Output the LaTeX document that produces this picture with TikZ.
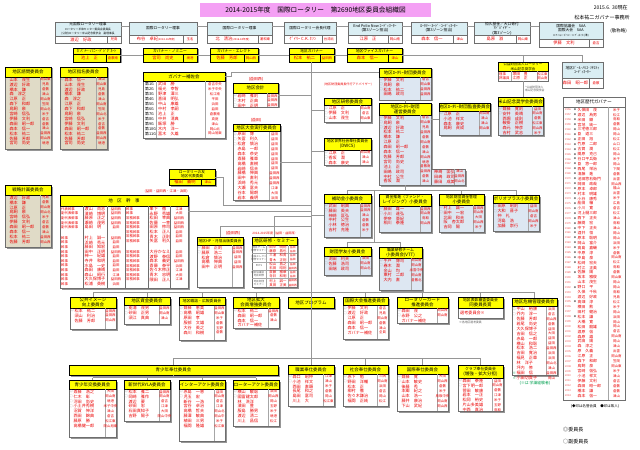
\documentclass[tikz,border=0pt]{standalone}
\usepackage{fontspec}
\setmainfont{Noto Sans CJK JP}
\usetikzlibrary{fit}

\definecolor{hdryellow}{RGB}{255,255,0}
\definecolor{bodyblue}{RGB}{221,231,242}
\definecolor{bodybeige}{RGB}{224,219,199}
\definecolor{toplblue}{RGB}{218,238,243}
\definecolor{titlepink}{RGB}{244,160,244}
\definecolor{namered}{RGB}{235,0,0}
\definecolor{linegray}{RGB}{150,150,150}
\definecolor{boxgray}{RGB}{110,110,110}
\definecolor{shadowgray}{RGB}{150,150,150}
\definecolor{notegreen}{RGB}{0,160,80}

\tikzset{
  hdr/.style={font=\fontsize{3.8}{4.3}\selectfont, align=center, inner sep=0pt},
  thdr/.style={font=\fontsize{3.2}{3.7}\selectfont, align=center, inner sep=0pt},
  mbr/.style={font=\fontsize{3.5}{4}\selectfont, text=namered, anchor=west, inner sep=0pt},
  pn/.style={font=\fontsize{3.6}{4}\selectfont, text=namered, inner sep=0pt},
  clb/.style={font=\fontsize{2.9}{3.4}\selectfont, text=namered, inner sep=0pt},
  mkr/.style={font=\fontsize{2.8}{3.2}\selectfont, text=gray, inner sep=0pt},
  role/.style={font=\fontsize{2.9}{3.4}\selectfont, text=namered, anchor=west, inner sep=0pt},
  grp/.style={font=\fontsize{3.3}{3.8}\selectfont, inner sep=0pt},
  cat/.style={font=\fontsize{2.2}{2.6}\selectfont, text=gray!70!black, align=center, inner sep=0pt},
  yr/.style={font=\fontsize{2.2}{2.6}\selectfont, text=namered!70, inner sep=0pt},
  conn/.style={draw=linegray, line width=0.8pt},
  sepline/.style={draw=gray!70, line width=0.3pt},
  colline/.style={draw=boxgray, line width=0.6pt},
  lbl/.style={font=\fontsize{3.3}{3.8}\selectfont, text=namered, inner sep=0pt},
  note/.style={font=\fontsize{4.3}{5}\selectfont, inner sep=0pt},
  tiny note/.style={font=\fontsize{2.4}{2.9}\selectfont, text=gray!70!black, align=center, inner sep=0pt},
}

\def\mka{◎}\def\mkb{○}\def\mkn{}\def\mkd{●}\def\mks{\textcolor{notegreen}{※}}\def\mkh{◆}

% committee box: [body fill]{name}{x1}{y1}{x2}{header bottom}{y2}{title}
\newcommand{\cbox}[8][white]{%
  \fill[shadowgray] (#3+1.5,#4+1.5) rectangle (#5+1.5,#7+1.5);
  \filldraw[fill=#1,draw=boxgray,line width=0.6pt] (#3,#4) rectangle (#5,#7);
  \filldraw[fill=hdryellow,draw=black,line width=0.5pt] (#3,#4) rectangle (#5,#6);
  \node[hdr] at ({(#3+#5)/2},{(#4+#6)/2}) {#8};
  \node[fit={(#3,#4) (#5,#7)},inner sep=0pt] (#2) {};
}
% member rows: {x1}{x2}{top}{bottom}{mark/name/club,...}
\newcommand{\mlist}[5]{%
  \draw[sepline] (#2-11,#3) -- (#2-11,#4);
  \foreach \mk/\nm/\cb [count=\i from 0] in {#5}{%
    \node[mkr] at (#1+2.3,#3+2.7+\i*4.9) {\csname mk\mk\endcsname};
    \node[mbr] at (#1+4.4,#3+2.7+\i*4.9) {\nm};
    \node[clb] at (#2-5.5,#3+2.7+\i*4.9) {\cb};
  }%
}
% officer box, light blue head: {name}{x1}{y1}{x2}{header bottom}{y2}{title}{person}{club}
\newcommand{\tbox}[9]{%
  \filldraw[fill=white,draw=boxgray,line width=0.6pt] (#2,#3) rectangle (#4,#6);
  \filldraw[fill=toplblue,draw=boxgray,line width=0.6pt] (#2,#3) rectangle (#4,#5);
  \draw[boxgray] (#4-14,#5) -- (#4-14,#6);
  \node[thdr] at ({(#2+#4)/2},{(#3+#5)/2}) {#7};
  \node[pn] at ({(#2+#4-14)/2},{(#5+#6)/2}) {#8};
  \node[clb] at (#4-7,{(#5+#6)/2}) {#9};
  \node[fit={(#2,#3) (#4,#6)},inner sep=0pt] (#1) {};
}
% officer box, yellow
\newcommand{\ybox}[9]{%
  \fill[shadowgray] (#2+1.5,#3+1.5) rectangle (#4+1.5,#6+1.5);
  \filldraw[fill=hdryellow,draw=black,line width=0.5pt] (#2,#3) rectangle (#4,#6);
  \draw[black,line width=0.4pt] (#2,#5) -- (#4,#5) (#4-14,#5) -- (#4-14,#6);
  \node[thdr] at ({(#2+#4)/2},{(#3+#5)/2}) {#7};
  \node[pn] at ({(#2+#4-14)/2},{(#5+#6)/2}) {#8};
  \node[clb] at (#4-7,{(#5+#6)/2}) {#9};
  \node[fit={(#2,#3) (#4,#6)},inner sep=0pt] (#1) {};
}

\begin{document}
\begin{tikzpicture}[x=0.03cm,y=-0.03cm]
\fill[white] (0,0) rectangle (640,450);
\useasboundingbox (0,0) rectangle (640,450);

% title and notes
\fill[titlepink] (200,3) rectangle (431,17);
\node[font=\fontsize{5.7}{6.5}\selectfont, inner sep=0pt] (title) at (315.5,10) {2014-2015年度\quad 国際ロータリー\quad 第2690地区委員会組織図};
\node[note, anchor=east] (asof) at (628,8) {2015.6. 30現在};
\node[note, anchor=east] (office) at (630,18) {松本祐二ガバナー事務所};
\node[note, anchor=east, font=\fontsize{3.8}{4.4}\selectfont] (keisho) at (627,31) {(敬称略)};

% RI officers
\tbox{T1}{55}{22}{121}{36}{43}{元国際ロータリー理事\\{\fontsize{2.3}{2.8}\selectfont ロータリー平和センター委員会委員長}\\{\fontsize{2.3}{2.8}\selectfont (公財)ロータリー米山記念奨学会　副理事長}}{渡辺　好政}{児島}
\tbox{T2}{129}{22}{197}{35}{43}{国際ロータリー理事}{布谷　卓紀{\fontsize{2.3}{3}\selectfont (2014-16年度)}}{玉名}
\tbox{T3}{207}{22}{272}{35}{43}{国際ロータリー理事}{北　清治{\fontsize{2.3}{3}\selectfont (2016-18年度)}}{浦和東}
\tbox{T4}{284}{22}{336}{35}{43}{国際ロータリー会長代理}{ｹﾞｲﾘｰ C.K. ﾎｧﾝ}{台湾北}
\tbox{T5}{348}{22}{402}{35}{43}{End Polio Now ｺｰﾃﾞｨﾈｰﾀｰ\\(第3ゾーン担当)}{江原　正}{岡山南}
\tbox{T6}{411}{22}{467}{35}{43}{ﾛｰﾀﾘｰ･ｶｰﾄﾞ･ｺｰﾃﾞｨﾈｰﾀｰ\\(第3ゾーン担当)}{森本　信一}{津山}
\tbox{T7}{474}{22}{530}{35}{43}{恒久基金／大口寄付\\ｱﾄﾞﾊﾞｲｻﾞｰ\\(第3ゾーン)}{島原　淑}{岡山東}
\tbox{T8}{539}{22}{603}{39}{47}{国際協議会　SAA\\国際大会　SAA\\{\fontsize{2.3}{3}\selectfont ﾛｰﾃｰｼｮﾝ･ﾎﾟﾘｼｰ･ｺｰﾃﾞｨﾈｰﾀｰ(準)}}{伊藤　文利}{倉吉}

% governors
\ybox{R1}{73}{48}{120}{54.5}{62}{ｶﾞﾊﾞﾅｰ･ﾉﾐﾆｰ･ﾃﾞｼﾞｸﾞﾈｰﾄ}{池上　正}{倉敷南}
\ybox{R2}{143}{48}{197}{54.5}{62}{ガバナー・ノミニー}{宮司　尚史}{境港}
\ybox{R3}{210}{48}{258}{54.5}{62}{ガバナー・エレクト}{佐藤　芳郎}{岡山西}
\ybox{R4}{289}{48}{334}{54.5}{62}{地区ガバナー}{松本　祐二}{益田西}
\ybox{R5}{347}{48}{402}{54.5}{62}{地区ヴァイスガバナー}{森本　信一}{津山}
\ybox{RT}{169}{169}{215}{179}{185}{ロータリーの友\\地区代表委員}{福田　義明}{津山}
\tbox{PH}{562}{62}{603}{78}{88}{地区ﾎﾟｰﾙ･ﾊﾘｽ･ｿｻｴﾃｨ\\ｺｰﾃﾞｨﾈｰﾀｰ}{森田　昭一郎}{倉敷}

% left column
\cbox[bodybeige]{SK}{5}{67}{51}{77}{149}{地区諮問委員会}
\mlist{5}{51}{77}{149}{n/山本　茂生/岡山東, n/渡辺　好政/児島, n/橋本　謙/倉敷, n/森　淳之/津山, n/江原　正/岡山南, n/森下　和郎/笠岡, n/鳥飼　泉/岡山北, n/宮崎　信弘/米子, n/伊藤　文利/倉吉, n/森田　昭一郎/倉敷, n/森本　信一/津山, n/松本　祐二/益田西, n/佐藤　芳郎/岡山西, n/宮司　尚史/境港}
\cbox[bodybeige]{SI}{60}{67}{107}{77}{149}{地区指名委員会}
\mlist{60}{107}{77}{149}{a/森本　信一/津山, n/山本　茂生/岡山東, n/渡辺　好政/児島, n/橋本　謙/倉敷, n/森　淳之/津山, n/江原　正/岡山南, n/森下　和郎/笠岡, n/鳥飼　泉/岡山北, n/宮崎　信弘/米子, n/伊藤　文利/倉吉, n/森田　昭一郎/倉敷, n/松本　祐二/益田西, n/佐藤　芳郎/岡山西, n/宮司　尚史/境港}
\cbox[bodybeige]{SR}{5}{185}{51}{195}{247}{戦略計画委員会}
\mlist{5}{51}{195}{247}{n/渡辺　好政/児島, n/橋本　謙/倉敷, n/江原　正/岡山南, n/鳥飼　泉/岡山北, n/宮崎　信弘/米子, n/伊藤　文利/倉吉, n/森田　昭一郎/倉敷, n/森本　信一/津山, n/松本　祐二/益田西, n/佐藤　芳郎/岡山西}

% assistant governors
\cbox{GA}{143}{72}{225}{81}{138}{ガバナー補佐会}
\draw[sepline] (156,81) -- (156,138) (205,81) -- (205,138);
\foreach \g/\nm/\cb [count=\i from 0] in {1/武田　勝/倉吉中央, 2/福光　幸智/米子中央, 3/野津　澤三/松江南, 4/喜田　明弘/平田, 5/中山　康雄/浜田, 6/中村　孝嗣/益田, 7/池上　正/倉敷南, 8/中井　清典/真庭, 9/飯塚　勝/津山, 10/木内　洋一/岡山北, 11/冨木　久雄/岡山旭東}{
  \node[grp, anchor=west] at (145,84.2+\i*4.95) {第\g G};
  \node[mbr] at (158,84.2+\i*4.95) {\nm};
  \node[clb] at (215,84.2+\i*4.95) {\cb};
}

% district accounting and conference
\node[lbl] (lkaikei) at (256,79.5) {(益田西)};
\cbox{KA}{233}{83}{278}{93}{107}{地区会計}
\mlist{233}{278}{93}{107}{a/岩崎　雅則/益田西, b/木村　正典/益田西, b/田中　正明/益田西}
\node[lbl] (ltaikai) at (256,120.5) {(益田)};
\cbox{TK}{233}{124}{280}{131.5}{200}{地区大会実行委員会}
\mlist{233}{280}{131.5}{200}{a/原田　博/益田, b/矢冨　利久/益田, b/松倉　慎治/益田, n/赤島　一郎/益田, n/森本　恭史/益田, n/斎藤　雅章/益田, n/高橋　直樹/益田, n/岩崎　信夫/益田, n/藤橋　伸典/益田西, n/田中　直利/益田西, n/浜崎　秀元/益田西, n/大瀬　富夫/江津, n/谷本　陽朗/大田, n/岩本　義明/浜田}

% district secretaries
\node[lbl, anchor=east, font=\fontsize{2.9}{3.4}\selectfont] (lkanji) at (188,191) {(益田・益田西・江津・浜田)};
\cbox{KJ}{60}{195}{188}{206}{288}{地\quad 区\quad 幹\quad 事}
\foreach \xx in {83,107,125,148,170} \draw[colline] (\xx,206) -- (\xx,288);
\foreach \rl/\nm/\cb [count=\i from 0] in {代表幹事/渡山　尚志/益田西, 副代表幹事/濱崎　博明/益田西, 副代表幹事/藤原　正之/益田西, 副代表幹事/瀬崎　茂男/益田西, 副代表幹事/島田　明/益田}{
  \node[role] at (61,209+\i*4.6) {\rl};
  \node[mbr] at (84.5,209+\i*4.6) {\nm};
  \node[clb] at (116,209+\i*4.6) {\cb};
}
\foreach \rl/\nm/\cb [count=\i from 0] in {幹事/村上　誠一/益田西, 幹事/浜崎　秀元/益田, 幹事/藤田　知宏/益田, 幹事/田中　正明/益田西, 幹事/神一　紀雄/益田, 幹事/寺井　和明/益田, 幹事/水島　一史/益田, 幹事/森田　康晴/益田, 幹事/森山　昭行/江津, 幹事/大久保博子/益田西, 幹事/松浦　英樹/浜田}{
  \node[role] at (61,238+\i*4.6) {\rl};
  \node[mbr] at (84.5,238+\i*4.6) {\nm};
  \node[clb] at (116,238+\i*4.6) {\cb};
}
\foreach \rl/\nm/\cb [count=\i from 0] in {幹事/峯下　徹/江津, 幹事/永野　秀雄/大田, 常務幹事/松田　幸典/益田西, 常務幹事/佐藤　一幸/益田西, 常務幹事/田原　修司/益田西, 常務幹事/松本　正人/益田, 常務幹事/青木　正則/益田, 常務幹事/矢冨　利久/益田}{
  \node[role] at (126,209+\i*4.6) {\rl};
  \node[mbr] at (149.5,209+\i*4.6) {\nm};
  \node[clb] at (179,209+\i*4.6) {\cb};
}
\foreach \rl/\nm/\cb [count=\i from 0] in {常務幹事/大谷かなえ/益田, 常務幹事/渡野　泰信/益田, 常務幹事/森本　義史/益田西, 常務幹事/斎藤　泰平/浜田, 常務幹事/佐々木修正/江津, 常務幹事/青木　忠明/大田, 常務幹事/隈田　正人/江津}{
  \node[role] at (126,252+\i*4.6) {\rl};
  \node[mbr] at (149.5,252+\i*4.6) {\nm};
  \node[clb] at (179,252+\i*4.6) {\cb};
}

% web site and seminars
\node[lbl] (lhp) at (233,233.5) {(益田西)};
\cbox{HP}{197}{237}{243}{245}{287}{\fontsize{3.2}{3.7}\selectfont 地区HP・月信出版委員会}
\mlist{197}{243}{245}{287}{a/藤田　正則/益田西, b/藤原　浩二/益田西, n/松倉　慎治/益田, n/高橋　伸典/益田, n/田中　正明/益田西}
\node[lbl, font=\fontsize{2.6}{3}\selectfont] (lsm) at (275,233.5) {2014-2015年度（益田・益田西）};
\cbox{SM}{252}{237}{297}{245}{287}{地区研修・セミナー}
\draw[sepline] (266,245) -- (266,287) (288.5,245) -- (288.5,287);
\foreach \yy in {253.4,261.8,270.2,278.6} \draw[sepline] (252,\yy) -- (297,\yy);
\foreach \ct [count=\i from 0] in {地区チーム\\研修セミナー, 会長エレクト\\研修セミナー, PETS, 地区協議会・\\地区研修, 地区財団\\セミナー}
  \node[cat] at (259,249.2+\i*8.4) {\ct};
\foreach \mk/\nm/\cb [count=\i from 0] in {a/田中　明則/益田, b/藤原　昌也/益田, n/三浦　和男/益田, n/青木　正則/益田, n/松山　昌之/益田, n/石田　昭則/益田西, n/斎藤　雅章/益田, n/寺井　和明/益田, n/村上　誠一/益田西, n/真田　正美/益田西}{
  \node[mkr, font=\fontsize{2.4}{2.8}\selectfont] at (267.6,247.3+\i*4.2) {\csname mk\mk\endcsname};
  \node[mbr, font=\fontsize{2.9}{3.3}\selectfont] at (269.2,247.3+\i*4.2) {\nm};
  \node[clb, font=\fontsize{2.3}{2.7}\selectfont] at (292.8,247.3+\i*4.2) {\cb};
}

% foundation
\node[lbl, font=\fontsize{2.6}{3}\selectfont] (ladv) at (348,85) {(地区財団委員長代行アドバイザー)};
\cbox{KS}{324}{98}{371}{105.5}{122}{地区研修委員会}
\mlist{324}{371}{105.5}{122}{a/江原　正/岡山南, b/伊藤　文利/倉吉, b/山本　茂生/岡山東}
\cbox{DW}{324}{138}{371}{150}{165}{\fontsize{3.2}{3.7}\selectfont 地区世界社会奉仕委員会\\(DWCS)}
\mlist{324}{371}{150}{165}{a/江原　正/岡山南, b/香坂　潤/津山, b/森本　康史/津山}
\cbox[bodyblue]{ZF}{379}{68}{431}{77}{100}{地区ﾛｰﾀﾘｰ財団委員会}
\mlist{379}{431}{77}{100}{a/伊藤　文利/倉吉, b/鳥飼　泉/岡山東, b/松本　祐二/益田西, n/田嶋　政司/益田西}
\cbox[bodyblue]{ZU}{379}{103}{431}{115}{185}{地区ﾛｰﾀﾘｰ財団\\運営委員会}
\mlist{379}{431}{115}{185}{a/伊藤　文利/倉吉, b/鳥飼　泉/岡山東, b/渡辺　好政/児島, n/松本　祐二/益田西, n/橋本　謙/倉敷, n/江原　正/岡山南, n/森田　昭一郎/倉敷, n/森本　信一/津山, n/佐藤　芳郎/岡山西, n/宮司　尚史/境港, n/池上　正/倉敷南, n/田嶋　政司/益田西, n/中村　公生/倉敷, n/香坂　潤/津山}
\fill[shadowgray] (432.5,170.5) rectangle (466.5,186.5);
\filldraw[fill=bodyblue, draw=boxgray, line width=0.6pt] (431,169) rectangle (465,185);
\draw[sepline] (454,169) -- (454,185);
\foreach \nm/\cb [count=\i from 0] in {神崎　匡弘/津山, 田嶋　政司/益田西, 藤田　成美/岡山北}{
  \node[mbr] at (434,171.7+\i*4.9) {\nm};
  \node[clb] at (459.5,171.7+\i*4.9) {\cb};
}
\node[fit={(431,169) (465,185)}, inner sep=0pt] (ZX) {};
\cbox[bodyblue]{ZK}{439}{103}{490}{111}{135}{地区ﾛｰﾀﾘｰ財団監査委員会}
\mlist{439}{490}{111}{135}{a/江原　正/岡山南, n/小池　祥文/津山, n/森本　康史/津山, n/鳥飼　貞成/岡山東}
\cbox[bodyblue]{HJ}{324}{194}{371}{203}{237}{補助金小委員会}
\mlist{324}{371}{203}{237}{a/武田　昭典/益田西, b/藤田　英夫/益田西, n/神崎　匡弘/津山, n/中村　公生/倉敷, n/小林　徳治/倉敷, n/吉村　充隆/米子}
\cbox[bodyblue]{SS}{379}{194}{431}{206}{232}{\fontsize{3.3}{3.8}\selectfont 資金推進（ファンド・\\レイジング）小委員会}
\mlist{379}{431}{206}{232}{a/藤田　雄一/益田西, b/小川　達弘/岡山南, n/伊奈　亜紀/鳥取, n/相川　泰隆/岡山西}
\cbox[bodyblue]{SKN}{439}{194}{484}{205}{232}{\fontsize{3.3}{3.8}\selectfont 地区財団資金管理\\小委員会}
\mlist{439}{484}{205}{232}{a/村上　誠一/益田西, b/田中　一宏/岡山南, n/北田　和夫/大田, n/阪　杏太郎/岡山西, n/吉岡　陽/米子}
\cbox[bodyblue]{PO}{493}{195}{539}{203.5}{231}{ポリオプラス小委員会}
\mlist{493}{539}{203.5}{231}{a/田原　昭則/益田, b/大和　晋子/岡山南, n/仲　礼/倉吉, n/河島　浩/岡山西, n/加藤　崇行/米子}
\cbox[bodyblue]{GY}{324}{247}{371}{256}{275}{財団学友小委員会}
\mlist{324}{371}{256}{275}{a/渕田　利夫/浜田, b/佐藤　浩司/岡山南, n/田端　政司/岡山北}
\cbox[bodyblue]{VT}{379}{247}{422}{258}{290}{\fontsize{3.3}{3.8}\selectfont 職業研修チーム\\小委員会(VTT)}
\mlist{379}{422}{258}{290}{a/手戸　博司/岡山南, b/春木　潤/岡山南, n/金山　均/出雲中央, n/東村　二郎/岡山南, n/大内　直/倉敷北}

% Yoneyama
\filldraw[fill=white, draw=boxgray, line width=0.6pt] (498,62) rectangle (548,81);
\filldraw[fill=hdryellow, draw=black, line width=0.5pt] (498,62) rectangle (548,71.5);
\node[hdr, font=\fontsize{3}{3.5}\selectfont] at (523,66.7) {公益財団法人ロータリー\\米山記念奨学会};
\draw[sepline] (511,71.5) -- (511,81) (537,71.5) -- (537,81);
\foreach \rl/\nm/\cb [count=\i from 0] in {理事/塚田　豊/松江東, 評議員/江原　正/岡山南}{
  \node[role] at (499,74+\i*4.5) {\rl};
  \node[mbr, font=\fontsize{3.2}{3.6}\selectfont] at (512.5,74+\i*4.5) {\nm};
  \node[clb] at (542.5,74+\i*4.5) {\cb};
}
\node[fit={(498,62) (548,81)}, inner sep=0pt] (YZ) {};
\node[tiny note, anchor=west] (lyone) at (524,89) {*公益財団法人\\\ 米山記念奨学会};
\cbox[bodyblue]{YI}{498}{97}{543}{106}{135}{米山記念奨学会委員会}
\mlist{498}{543}{106}{135}{a/齋藤　寛則/益田, b/安井　英晴/岡山南, n/西堀　成則/倉敷, n/鞍掛　正樹/松江東, n/森元　伸彦/岡山西, n/吉村　武志/米子}

% past governors
\filldraw[fill=white, draw=boxgray, line width=0.6pt] (563,97) rectangle (625,400);
\draw[boxgray] (563,107) -- (625,107);
\draw[sepline] (608,107) -- (608,400);
\node[hdr] (rgtitle) at (594,102) {地区歴代ガバナー};
\foreach \yy/\mk/\nm/\cb [count=\i from 0] in {1956/d/久保田　茂/米子, 1957/d/渡辺　為男/松江, 1958/d/米田　顯/鳥取, 1959/d/宮地　純一/倉敷, 1960/d/三宅徳三郎/岡山, 1961/d/臣　道三/岡山, 1962/d/正田　旭/松江, 1963/d/竹原　二郎/山口, 1964/d/古賀　潤/松江, 1965/d/関原　克己/岡山, 1966/d/谷口平兵衛/米子, 1967/d/臣　悠一郎/岡山, 1968/d/西尾　栄治/下関, 1969/d/清藤　進/倉敷, 1970/d/池田惣右衛門/出雲, 1971/d/岡田　政哉/岡山西, 1972/d/原本　卓郎/福山, 1973/d/村本　明雄/出雲, 1974/d/小谷　康秀/米子, 1975/d/船田　穣/広島, 1976/d/小川　寛/倉吉, 1977/d/河上樋三郎/松江, 1978/d/西下　正夫/津山, 1979/d/藤間　宏/鳥取, 1980/d/中下　正夫/津山, 1981/d/酒井　恒/岡山, 1982/d/原本　聡明/岡山, 1983/d/岡山　富介/浜田, 1984/d/高島　嘉磯/米子, 1985/d/中原　淳/倉敷, 1986/d/中島　泉/岡山南, 1987/d/松崎　宏夫/松江, 1988/n/村江　正美/鳥取, 1989/d/佐藤　陽/倉敷, 1990/n/坂本　雅俊/岡山東, 1991/n/山本　茂生/岡山, 1992/d/野口　平/岡山, 1993/n/久保　千秋/鳥取, 1994/n/渡辺　好政/児島, 1995/d/高畑　淳/松江, 1996/n/横田　勲/米子, 1997/n/田村　健治/岡山, 1998/d/松本　謙/浜田, 1999/n/大橋　寛/岡山, 2000/n/松田　龍雄/岡山, 2001/n/渡原　信/倉吉, 2002/n/森原　雄/岡山南, 2003/n/武田　陽/岡山, 2004/n/森　淳之/津山, 2005/n/原　久義/出雲, 2006/n/江原　正/岡山南, 2007/n/森下　和郎/笠岡, 2008/n/鳥飼　泉/岡山東, 2009/n/宮崎　信弘/米子, 2010/n/小池　祥文/津山, 2011/n/伊藤　文利/倉吉, 2012/n/森田　昭一郎/倉敷, 2013/n/橋本　謙/倉敷, 2014/n/森本　信一/津山}{
  \node[yr] at (568,109.8+\i*4.93) {\yy};
  \node[mkr, font=\fontsize{2}{2.4}\selectfont] at (575,109.8+\i*4.93) {\csname mk\mk\endcsname};
  \node[mbr, font=\fontsize{3.3}{3.8}\selectfont] at (577.5,109.8+\i*4.93) {\nm};
  \node[clb] at (616.5,109.8+\i*4.93) {\cb};
}
\node[fit={(563,97) (625,400)}, inner sep=0pt] (RG) {};
\node[font=\fontsize{3}{3.5}\selectfont, inner sep=0pt] (lrg) at (595,406) {(◆印は名誉会員　●印は故人)};

% row of committees under the governor
\cbox{KI}{70}{297}{116}{308}{329}{公共イメージ\\向上委員会}
\mlist{70}{116}{308}{329}{a/松本　祐二/益田西, n/須山　利治/益田西, n/佐藤　芳郎/岡山西}
\cbox{SI2}{124}{297}{170}{305.5}{324}{地区資金委員会}
\mlist{124}{170}{305.5}{324}{a/能浦　茂男/益田西, b/砂田　正男/岡山南, n/須江　真典/津山}
\cbox{ZS}{179}{297}{225}{305.5}{340}{\fontsize{3.3}{3.8}\selectfont 地区雑誌・広報委員会}
\mlist{179}{225}{305.5}{340}{a/齋藤　恵美/益田西, b/高橋　昭雄/岡山東, n/原田　孝/米子, n/服部　文雄/倉敷, n/大谷　英之/玉野, n/森川　和樹/倉敷}
\cbox{KD}{233}{297}{279}{308}{328}{地区拡大\\会員増強委員会}
\mlist{233}{279}{308}{328}{a/松本　祐二/益田西, n/森田　昭一郎/倉敷, n/森本　信一/津山, n/ガバナー補佐/{}}
\fill[shadowgray] (289.5,298.5) rectangle (335.5,309.5);
\filldraw[fill=hdryellow, draw=black, line width=0.5pt] (288,297) rectangle (334,308);
\node[hdr] (PG) at (311,302.5) {地区プログラム};
\cbox{KT}{343}{297}{388}{305.5}{339}{国際大会推進委員会}
\mlist{343}{388}{305.5}{339}{a/伊藤　文利/倉吉, b/渡辺　好政/児島, n/江原　正/岡山南, n/森田　昭一郎/倉敷, n/森本　信一/津山, n/ガバナー補佐/全員}
\cbox{CR}{397}{297}{448}{308}{323}{ロータリーカード\\推進委員会}
\mlist{397}{448}{308}{323}{a/森田　茂/岡山西, b/永野　公之/岡山南, n/ガバナー補佐/{}}
\cbox{HS}{458}{297}{503}{308}{318}{\fontsize{3.3}{3.8}\selectfont 地区表彰審査委員会\\同委員長賞}
\node[mbr] at (460,312.5) {選考委員会※};
\node[tiny note, anchor=west] (lhs) at (459,322) {※各地区選考委員};
\cbox{KK}{512}{298}{557}{306.5}{375}{地区危機管理委員会}
\mlist{512}{557}{306.5}{375}{a/中山　裕康/浜田, b/芥内　淳一/倉吉, n/佐藤　芳郎/岡山西, n/若尾　尚史/倉敷, n/大久保博子/益田, n/吉田　信之/大田, n/赤島　一郎/益田, n/横山　和聡/益田, n/松本　浩二/益田西, n/吉田　寛治/浜田, n/福見　正章/浜田, n/林　洋子/岡山北, n/坪内　修/津山, s/福田　信/益田西, s/小田切貴子/岡山}
\node[lbl, text=notegreen] (lkk) at (535,383) {(※は 学識経験者)};

% service committees
\fill[shadowgray] (70.5,366.5) rectangle (279.5,376.5);
\filldraw[fill=hdryellow, draw=black, line width=0.5pt] (69,365) rectangle (278,375);
\node[hdr] at (173.5,370) {青少年奉仕委員会};
\node[fit={(69,365) (278,375)}, inner sep=0pt] (SH) {};
\cbox{YE}{69}{380}{116}{389}{437}{青少年交換委員会}
\mlist{69}{116}{389}{437}{a/斎藤　浩之/大田, b/仁木　彰/岡山南, b/河田　尚史/境港, b/小土井秀樹/米子中央, n/沼賀　伸洋/津山, n/西田　錦典/倉吉, n/藤原　勝/松江東, n/高橋健一郎/岡山旭東}
\cbox{RY}{124}{380}{170}{389}{421}{新世代RYLA委員会}
\mlist{124}{170}{389}{421}{a/松本　雅二/益田西, b/岡崎　雅作/岡山南, n/渡辺　要/倉吉, n/砂田　忠/江津, n/石田真知子/大田, n/吉野　陽子/岡山中央}
\cbox{IA}{179}{380}{225}{389}{441}{インターアクト委員会}
\mlist{179}{225}{389}{441}{a/赤島　一恵/益田, b/児玉　宏/岡山南, n/新谷　一浩/倉吉, n/宮谷　卓治/江津, n/高橋　哲夫/岡山北, n/藤澤　敏典/岡山中, n/植田　三男/米子, n/福間　隆雄/松江東}
\cbox{RA}{233}{380}{279}{389}{426}{ローターアクト委員会}
\mlist{233}{279}{389}{426}{a/横山　敏聡/浜田, b/國富建太郎/岡山西, n/林　洗洋/岡山, n/濱田　豊/玉野, n/服島　勝男/米子, n/渡辺　清二/境港, n/川上　昌信/松江}
\cbox{SY}{288}{365}{334}{374}{406}{職業奉仕委員会}
\mlist{288}{334}{374}{406}{a/森口　昭仲/江津, b/小池　祥文/津山, n/西田　直顕/米子, n/長尾　和之/倉敷, n/島田　富司/岡山, n/川上　大/松江東}
\cbox{SC}{343}{365}{388}{374}{406}{社会奉仕委員会}
\mlist{343}{388}{374}{406}{a/赤下　勉/三隅, b/野田　洋輔/岡山南, n/松本　正/浜田, n/柳村　徹/倉吉, n/佐々木謙治/岡山, n/福間　正純/松江}
\cbox{KO}{397}{365}{448}{374}{411}{国際奉仕委員会}
\mlist{397}{448}{374}{411}{a/齋藤　寛/大田, b/山本　敏史/岡山西, n/後藤　秀/倉敷, n/本郷　紀之/米子, n/山本　浩一/鳥取中央, n/藤井　康治/岡山南, n/下山　武紀/岡山西}
\cbox{CL}{458}{365}{503}{378}{411}{\fontsize{3.3}{3.8}\selectfont クラブ奉仕委員会\\(増強・拡大分担)}
\mlist{458}{503}{378}{411}{a/森田　泰隆/益田, b/宮下明一郎/岡山南, n/菅田　敏康/倉敷, n/岩本　一正/江津, n/松岡　裕史/米子, n/片山多美雄/玉野, n/中西　真治/鳥取}

\node[note, anchor=west] (lchair) at (563,430) {◎委員長};
\node[note, anchor=west] (lvice) at (563,442) {○副委員長};

% connectors
\coordinate (tb) at (311.5,358);
\coordinate (j190) at (374,190);
\coordinate (j242) at (374,242);
\coordinate (j292) at (311.5,292);
\coordinate (jRT) at (223,205);
\coordinate (jKJ) at (311.5,211);
\coordinate (jHP) at (311.5,226);
\coordinate (jSM) at (311.5,216);
\coordinate (jSH) at (173.5,377.5);
\foreach \a/\b in {T1/T2,T2/T3,T3/T4,T4/T5,T5/T6,T6/T7,T7/T8}
  \draw[conn] ([yshift=-4pt]\a.north east) -- ([yshift=-4pt]\b.north west);
\foreach \a/\b in {R1/R2,R2/R3,R3/R4,R4/R5}
  \draw[conn] (\a.east) -- (\b.west);
\draw[conn] (R5.east) -| (PH.north);
\draw[conn] (R5.east -| YZ.north) -- (YZ.north);
\draw[conn] (YZ.south) -- (YZ.south |- YI.north);
\draw[conn] (R4.south) -- (tb);
\draw[conn] ([yshift=-4pt]GA.north east) -- ++(6,0) |- ([yshift=-4pt]ZF.north west);
\draw[conn] (KA.east) -- (KA.east -| tb);
\draw[conn] (TK.east) -- (TK.east -| tb);
\draw[conn] (RT.east) -| (jRT) -- (jRT -| tb);
\draw[conn] (KJ.east |- jKJ) -- (jKJ);
\draw[conn] (HP.north) |- (jHP);
\draw[conn] (SM.north) |- (jSM);
\draw[conn] (KS.west) -- (KS.west -| tb);
\draw[conn] (DW.west) -- (DW.west -| tb);
\draw[conn] (HJ.west) -- (HJ.west -| tb);
\draw[conn] (ZF.south) -- (ZF.south |- ZU.north);
\draw[conn] (ZU.east |- ZK.west) -- (ZK.west);
\draw[conn] (ZU.south) -- (ZU.south |- j190);
\draw[conn] (HJ.north) -- (HJ.north |- j190) -- (PO.north |- j190) -- (PO.north);
\draw[conn] (SKN.north) -- (SKN.north |- j190);
\draw[conn] (j190) -- (j242);
\draw[conn] (GY.north) -- (GY.north |- j242) -- (VT.north |- j242) -- (VT.north);
\draw[conn] (KI.north |- j292) -- (KK.north |- j292);
\foreach \b in {KI,SI2,ZS,KD,PG,KT,CR,HS,KK}
  \draw[conn] (\b.north) -- (\b.north |- j292);
\draw[conn] (SH.north |- tb) -- (CL.north |- tb);
\foreach \b in {SH,SY,SC,KO,CL}
  \draw[conn] (\b.north) -- (\b.north |- tb);
\draw[conn] (SH.south) -- (jSH);
\draw[conn] (YE.north |- jSH) -- (RA.north |- jSH);
\foreach \b in {YE,RY,IA,RA}
  \draw[conn] (\b.north) -- (\b.north |- jSH);
\end{tikzpicture}
\end{document}
